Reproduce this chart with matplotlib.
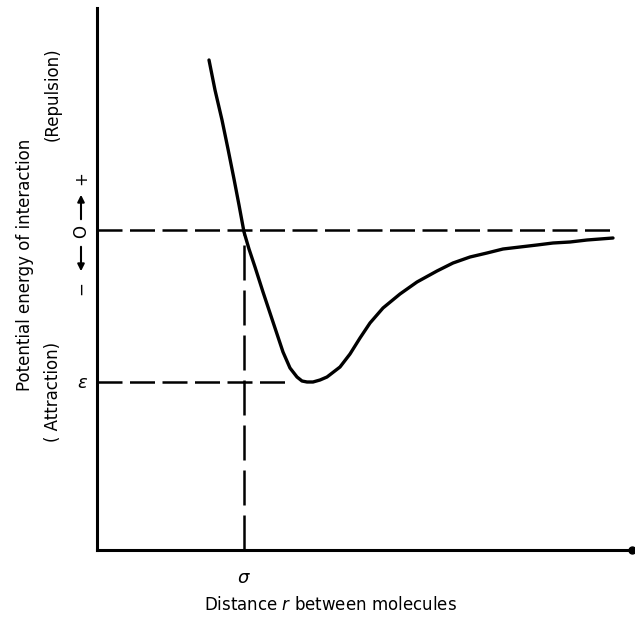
import numpy as np
import matplotlib
matplotlib.use('Agg')
from matplotlib import pyplot as plt
from matplotlib.patches import FancyArrowPatch

W, H = 635, 619

# curve (r in arbitrary distance units, E in energy units)
r_curve = [1.12, 1.18, 1.25, 1.31, 1.37, 1.42, 1.47, 1.52, 1.58, 1.66, 1.76,
           1.86, 1.93, 2.00, 2.05, 2.10, 2.16, 2.23, 2.30, 2.43, 2.53, 2.63,
           2.73, 2.86, 3.03, 3.20, 3.40, 3.56, 3.73, 3.90, 4.06, 4.23, 4.40,
           4.56, 4.73, 4.90, 5.16]
E_curve = [1.72, 1.42, 1.12, 0.83, 0.53, 0.27, 0.00, -0.17, -0.35, -0.60,
           -0.90, -1.20, -1.36, -1.45, -1.49, -1.50, -1.50, -1.48, -1.45,
           -1.35, -1.22, -1.06, -0.91, -0.76, -0.62, -0.50, -0.39, -0.31,
           -0.25, -0.21, -0.17, -0.15, -0.13, -0.11, -0.10, -0.08, -0.06]

sigma = 1.47
epsilon = -1.50
r_zero_end = 5.16
r_eps_end = 1.93
xlim = (0, 5.35)
ylim = (-3.18, 2.24)

fig = plt.figure(figsize=(W / 100, H / 100), dpi=100)
ax = fig.add_axes([97 / W, 1 - 550 / H, (632 - 97) / W, (550 - 8) / H])

ax.plot(r_curve, E_curve, color='k', lw=2.4, solid_capstyle='round',
        solid_joinstyle='round')

dash_kw = dict(color='k', lw=1.8, dashes=(10, 3))
ax.plot([0, r_zero_end], [0.02, 0.02], **dash_kw)
ax.plot([0, r_eps_end], [epsilon, epsilon], **dash_kw)
ax.plot([sigma, sigma], [ylim[0], 0], color='k', lw=1.8, dashes=(14, 4))

ax.set_xlim(*xlim)
ax.set_ylim(*ylim)
for s in ['top', 'right']:
    ax.spines[s].set_visible(False)
for s in ['left', 'bottom']:
    ax.spines[s].set_linewidth(2.2)
ax.set_xticks([])
ax.set_yticks([])
ax.plot([1], [0], marker='o', ms=5, color='k', transform=ax.transAxes, clip_on=False)

def fx(px):
    return px / W

def fy(py):
    return 1 - py / H

fs = 12
fig.text(fx(25), fy(265), 'Potential energy of interaction', rotation=90,
         ha='center', va='center', fontsize=fs)
fig.text(fx(53), fy(94), '(Repulsion)', rotation=90, ha='center', va='center', fontsize=fs)
fig.text(fx(53), fy(392), '( Attraction)', rotation=90, ha='center', va='center', fontsize=fs)
fig.text(fx(81), fy(178), '+', rotation=90, ha='center', va='center', fontsize=fs)
fig.text(fx(81), fy(232), 'O', rotation=90, ha='center', va='center', fontsize=fs)
fig.text(fx(81), fy(288), '\u2212', rotation=90, ha='center', va='center', fontsize=fs)
fig.text(fx(83), fy(383), r'$\epsilon$', ha='center', va='center', fontsize=fs + 1)
ap = dict(arrowstyle='-|>', lw=1.5, color='k', mutation_scale=10)
fig.add_artist(FancyArrowPatch((fx(81), fy(222)), (fx(81), fy(192)),
                               transform=fig.transFigure, **ap))
fig.add_artist(FancyArrowPatch((fx(81), fy(244)), (fx(81), fy(274)),
                               transform=fig.transFigure, **ap))

ax.text(sigma, -0.035, r'$\sigma$', transform=ax.get_xaxis_transform(),
        ha='center', va='top', fontsize=fs + 1)
fig.text(fx(330), fy(605), r'Distance $r$ between molecules', ha='center',
         va='center', fontsize=fs)

fig.savefig('out.png', dpi=100)
